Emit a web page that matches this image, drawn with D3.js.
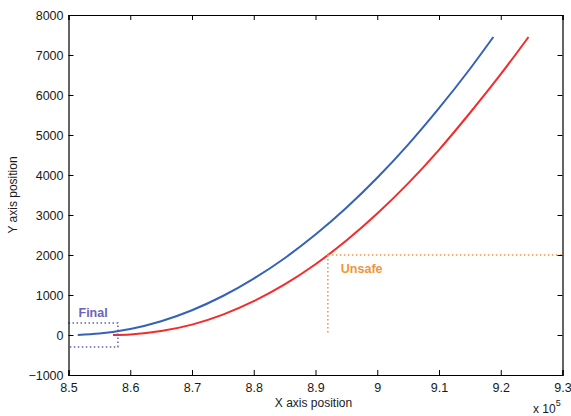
<!DOCTYPE html>
<html>
<head>
<meta charset="utf-8">
<script src="https://cdn.jsdelivr.net/npm/d3@7"></script>
<style>
    body { margin: 0; background: white; }
    svg text { font-family: "Liberation Sans", Arial, sans-serif; }
</style>
</head>
<body>
<div id="chart"></div>
<script>
// Chart values (x in units of 10^5)
//
var x_ticks  = [8.5, 8.6, 8.7, 8.8, 8.9, 9.0, 9.1, 9.2, 9.3];
var y_ticks  = [-1000, 0, 1000, 2000, 3000, 4000, 5000, 6000, 7000, 8000];

var blue_x   = [8.515, 8.55, 8.60, 8.65, 8.70, 8.75, 8.80, 8.85, 8.90, 8.95, 9.00, 9.05, 9.10, 9.15, 9.188];
var blue_y   = [3, 37, 150, 345, 620, 975, 1410, 1920, 2510, 3180, 3930, 4760, 5670, 6650, 7450];

var red_x    = [8.572, 8.60, 8.65, 8.70, 8.75, 8.80, 8.85, 8.90, 8.95, 9.00, 9.05, 9.10, 9.15, 9.20, 9.245];
var red_y    = [0, 15, 100, 260, 510, 845, 1265, 1770, 2360, 3035, 3790, 4630, 5550, 6520, 7450];

// Annotations
//
var unsafe_x = 8.92;
var unsafe_y = [50, 2000];
var final_x  = [8.5, 8.58];
var final_y  = [-300, 300];

// Set globals
//
var svg_width   = 571;
var svg_height  = 416;

var x_box_min   = 68.5;
var x_box_max   = 562.5;
var y_box_min   = 15;
var y_box_max   = 375;
var tick_len    = 5;

var x_scale = d3.scaleLinear().domain([8.5, 9.3]).range([x_box_min, x_box_max]);
var y_scale = d3.scaleLinear().domain([-1000, 8000]).range([y_box_max, y_box_min]);

// SVG canvas
//
var svg = d3.select("#chart").append("svg")
    .attr('width', svg_width)
    .attr('height', svg_height)
    .attr('viewBox', `0 0 ${svg_width} ${svg_height}`);

svg.append("rect")
    .attr('width', svg_width)
    .attr('height', svg_height)
    .attr('fill', 'white');

// Curves
//
var line = d3.line()
    .x(d => x_scale(d[0]))
    .y(d => y_scale(d[1]))
    .curve(d3.curveMonotoneX);

svg.append("path")
    .datum(blue_x.map((x, i) => [x, blue_y[i]]))
    .attr('d', line)
    .attr('fill', 'none')
    .attr('stroke', '#3561b9')
    .attr('stroke-width', 2);

svg.append("path")
    .datum(red_x.map((x, i) => [x, red_y[i]]))
    .attr('d', line)
    .attr('fill', 'none')
    .attr('stroke', '#f52a2a')
    .attr('stroke-width', 2);

// Unsafe marker (orange dotted lines)
//
var orange = '#f39437';
svg.append("line")
    .attr('x1', x_scale(unsafe_x))
    .attr('x2', x_box_max)
    .attr('y1', y_scale(unsafe_y[1]))
    .attr('y2', y_scale(unsafe_y[1]))
    .attr('stroke', orange)
    .attr('stroke-width', 1.5)
    .attr('stroke-dasharray', '1.5,2.5');

svg.append("line")
    .attr('x1', x_scale(unsafe_x))
    .attr('x2', x_scale(unsafe_x))
    .attr('y1', y_scale(unsafe_y[1]))
    .attr('y2', y_scale(unsafe_y[0]))
    .attr('stroke', orange)
    .attr('stroke-width', 1.5)
    .attr('stroke-dasharray', '1.5,2.5');

svg.append("text")
    .attr('x', x_scale(unsafe_x) + 13)
    .attr('y', y_scale(unsafe_y[1]) + 18)
    .style("font-size", "12.5px")
    .style("font-weight", "bold")
    .style("fill", orange)
    .text("Unsafe");

// Final marker (blue dotted box)
//
var purple = '#6060c0';
svg.append("path")
    .attr('d', `M${x_scale(final_x[0])},${y_scale(final_y[1])}` +
               `H${x_scale(final_x[1])}V${y_scale(final_y[0])}H${x_scale(final_x[0])}`)
    .attr('fill', 'none')
    .attr('stroke', purple)
    .attr('stroke-width', 1.5)
    .attr('stroke-dasharray', '1.5,2.5');

svg.append("text")
    .attr('x', x_scale(final_x[0]) + 10)
    .attr('y', y_scale(final_y[1]) - 6)
    .style("font-size", "12.5px")
    .style("font-weight", "bold")
    .style("fill", '#6a64b8')
    .text("Final");

// Axes (MATLAB style: ticks pointing inward, box on)
//
var bottom = svg.append("g")
    .attr('transform', `translate(0,${y_box_max})`)
    .call(d3.axisBottom(x_scale).tickValues(x_ticks).tickSize(-tick_len).tickPadding(8).tickFormat(d3.format("")));

var top_axis = svg.append("g")
    .attr('transform', `translate(0,${y_box_min})`)
    .call(d3.axisTop(x_scale).tickValues(x_ticks).tickSize(-tick_len).tickFormat(""));

var left = svg.append("g")
    .attr('transform', `translate(${x_box_min},0)`)
    .call(d3.axisLeft(y_scale).tickValues(y_ticks).tickSize(-tick_len).tickPadding(5).tickFormat(d3.format("")));

var right = svg.append("g")
    .attr('transform', `translate(${x_box_max},0)`)
    .call(d3.axisRight(y_scale).tickValues(y_ticks).tickSize(-tick_len).tickFormat(""));

[bottom, top_axis, left, right].forEach(function(g) {
    g.select(".domain").attr('stroke', 'black').attr('stroke-width', 1.2);
    g.selectAll(".tick line").attr('stroke', 'black');
    g.selectAll(".tick text")
        .attr('fill', '#1a1a1a')
        .style("font-family", '"Liberation Sans", Arial, sans-serif')
        .style("font-size", "12.5px");
});

// Axis labels
//
svg.append("text")
    .attr('x', (x_box_min + x_box_max) / 2 - 2)
    .attr('y', 407)
    .style("text-anchor", "middle")
    .style("font-size", "12px")
    .style("fill", '#1a1a1a')
    .text("X axis position");

svg.append("text")
    .attr('transform', `translate(17,${(y_box_min + y_box_max) / 2}) rotate(-90)`)
    .style("text-anchor", "middle")
    .style("font-size", "12px")
    .style("fill", '#1a1a1a')
    .text("Y axis position");

// Exponent label
//
var exp = svg.append("text")
    .attr('x', 533)
    .attr('y', 413)
    .style("font-size", "12px")
    .style("fill", '#1a1a1a');
exp.append("tspan").text("x 10");
exp.append("tspan")
    .attr('dy', -7)
    .style("font-size", "9px")
    .text("5");
</script>
</body>
</html>
